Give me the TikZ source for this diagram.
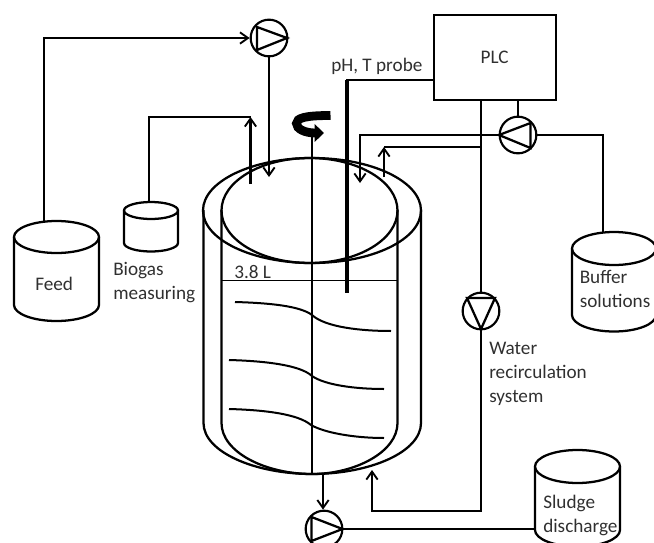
\documentclass[tikz,border=0pt]{standalone}
\usepackage{fontspec}
\setmainfont{Carlito}
\usetikzlibrary{arrows.meta}
\definecolor{txt}{HTML}{303030}
\tikzset{
  x=0.75pt,y=-0.75pt,
  pipe/.style={line width=1.7pt,line join=miter,black},
  wall/.style={line width=1.7pt,black},
  flow/.style={pipe,-{Straight Barb[length=6pt,width=8.5pt,line width=1.4pt]}},
  pumpc/.style={circle,draw,line width=1.6pt,minimum size=27.5pt,inner sep=0pt},
  lbl/.style={inner sep=0pt,text=txt,font=\fontsize{14.4}{18}\selectfont,align=left,anchor=west},
  blade/.style={line width=1.5pt,black},
}
\newcommand{\tank}[6]{%
  \coordinate (#1) at ({(#2+#3)/2},{#4-#5});
  \coordinate (#1side) at (#2,#6);
  \draw[wall] ({(#2+#3)/2},#4) ellipse [x radius={(#3-#2)/2},y radius=#5];
  \draw[wall] (#2,#4) -- (#2,#6) arc [start angle=180,end angle=0,x radius={(#3-#2)/2},y radius=#5] -- (#3,#4);
}
\begin{document}
\begin{tikzpicture}
\useasboundingbox (0,0) rectangle (654,543);
\clip (0,0) rectangle (654,543);

% PLC
\node[draw,line width=1.7pt,minimum width=91.5pt,minimum height=63.75pt,inner sep=0pt,anchor=north west,font=\fontsize{14.4}{18}\selectfont,text=txt] (plc) at (432.5,14) {PLC};

% pumps
\node[pumpc] (p1) at (269,38) {};
\node[pumpc] (p2) at (518,135) {};
\node[pumpc] (p3) at (481,311) {};
\node[pumpc] (p4) at (324,529) {};
\draw[pipe] (257,27) -- (287,38) -- (257,50) -- cycle;
\draw[pipe] (499,135) -- (530.5,123) -- (530.5,148) -- cycle;
\draw[pipe] (467,298) -- (495,298) -- (481,329) -- cycle;
\draw[pipe] (311.5,517) -- (342.5,529) -- (311.5,541) -- cycle;

% tanks
\tank{feed}{14}{99}{237}{16}{305}
\tank{biogas}{124}{178}{210.5}{8.5}{243}
\tank{buffer}{572}{656}{248.5}{16.5}{315}
\tank{sludge}{535}{620}{466.5}{16.5}{530}

% reactor
\draw[wall] (312,210.5) ellipse [x radius=109,y radius=52.5];
\draw[wall] (309.5,210.5) ellipse [x radius=88,y radius=52.5];
\draw[wall] (203.5,210) -- (203.5,423) .. controls (203.5,452) and (255,474) .. (312,474) .. controls (370,474) and (421,452) .. (421,423) -- (421,210);
\draw[wall] (221.5,210) -- (221.5,423) .. controls (221.5,452) and (265,474) .. (312,474) .. controls (355,474) and (397.5,452) .. (397.5,423) -- (397.5,210);
\draw[line width=0.6pt] (221,280) -- (397,280);

% shaft, blades, rotation
\coordinate (shafttop) at (312,137);
\coordinate (shaftend) at (312,473);
\draw[wall] (shafttop) -- (shaftend);
\draw[blade] (235,302) .. controls (270,303) and (300,306) .. (312,315) .. controls (325,327) and (360,331) .. (391,331);
\draw[blade] (229,360) .. controls (265,361) and (300,365) .. (312,376) .. controls (325,385) and (355,389) .. (384,389);
\draw[blade] (229,409) .. controls (265,410) and (298,414) .. (311,425) .. controls (325,433) and (355,438) .. (384,438);
\draw[line width=6.6pt,-{Triangle[length=7pt,width=13pt]}] (330.5,115.5) .. controls (305,115.5) and (296.5,118) .. (296.5,123.5) .. controls (296.5,129) and (305,133) .. (324,133);

% probe
\coordinate (probeend) at (347,293);
\coordinate (probetop) at (347,80);
\draw[line width=2.4pt] (probetop) -- (probeend);
\draw[pipe] (plc.west |- probetop) -- (345.8,80);

% feed
\draw[flow] (feed) ++(-12.5,0) coordinate (feedout) -- (feedout |- p1.west) -- (p1.west);
\coordinate (feedin) at (269,177);
\draw[flow] (p1.south) -- (feedin);

% biogas
\coordinate (gasup) at (250.5,184);
\coordinate (gastop) at (250.5,117);
\draw[flow] (gasup) -- (gastop);
\draw[pipe] (biogas) ++(-2,0) coordinate (gasout) -- (gasout |- gastop) -- (gastop);

% buffer
\coordinate (bufout) at (603,232.5);
\draw[pipe] (p2.east) -| (bufout);
\coordinate (bufin) at (360,183);
\coordinate (bufj) at (360,135);
\draw[flow] (p2.west) -- (bufj) -- (bufin);
\draw[pipe] (plc.south -| p2) -- (p2.north);

% water recirculation
\coordinate (wj) at (481,147);
\coordinate (wup) at (384,177);
\coordinate (wtop) at (384,147);
\draw[pipe] (wj) -- (wtop);
\draw[flow] (wup) -- (wtop);
\draw[pipe] (plc.south -| p3) -- (p3.north);
\coordinate (wcorner) at (481,511);
\coordinate (wc2) at (372,511);
\coordinate (wret) at (372,470);
\draw[flow] (p3.south) -- (wcorner) -- (wc2) -- (wret);

% discharge
\coordinate (vout) at (323,474);
\draw[flow] (vout) -- (vout |- p4.north);
\draw[pipe] (p4.east) -- (p4.east -| sludgeside);

% labels
\node[lbl] (l1) at (331,66) {pH, T probe};
\node[lbl] (l2) at (234,272) {3.8 L};
\node[lbl] (l3) at (35,283.5) {Feed};
\node[lbl] (l4) at (113,283) {Biogas\\measuring};
\node[lbl] (l5) at (579.5,289) {Buffer\\solutions};
\node[lbl] (l6) at (489,373.5) {Water\\recirculation\\system};
\node[lbl] (l7) at (543,515) {Sludge\\discharge};
\end{tikzpicture}
\end{document}
